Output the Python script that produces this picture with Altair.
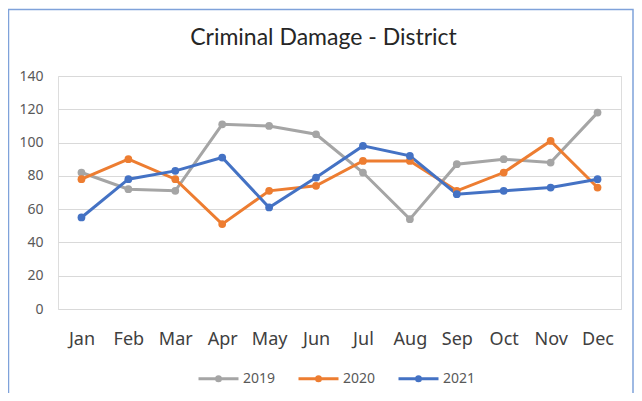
import altair as alt
import pandas as pd

months = ["Jan", "Feb", "Mar", "Apr", "May", "Jun", "Jul", "Aug", "Sep", "Oct", "Nov", "Dec"]
years = ["2019", "2020", "2021"]
v2019 = [82, 72, 71, 111, 110, 105, 82, 54, 87, 90, 88, 118]
v2020 = [78, 90, 78, 51, 71, 74, 89, 89, 71, 82, 101, 73]
v2021 = [55, 78, 83, 91, 61, 79, 98, 92, 69, 71, 73, 78]
colors = ["#A5A5A5", "#ED7D31", "#4472C4"]

rows = []
for y, vals in zip(years, [v2019, v2020, v2021]):
    for m, v in zip(months, vals):
        rows.append({"Month": m, "Year": y, "Value": v})
df = pd.DataFrame(rows)

W, H = 563, 233
PL, PT, PR, PB = 50, 68, 13, 84

legend_symbol = "M-1,0H1M-0.1,0A0.1,0.1,0,1,0,0.1,0A0.1,0.1,0,1,0,-0.1,0"

lines = alt.Chart(df).mark_line(
    strokeWidth=3,
    point=alt.OverlayMarkDef(size=60, filled=True),
).encode(
    x=alt.X("Month:O", sort=months, title=None,
            scale=alt.Scale(padding=0.5),
            axis=alt.Axis(labelAngle=0, domain=False, ticks=False, tickSize=0,
                          labelPadding=21, labelFont="Noto Sans", labelFontSize=18,
                          labelColor="#404040", grid=False)),
    y=alt.Y("Value:Q", title=None,
            scale=alt.Scale(domain=[0, 140], nice=False, zero=True),
            axis=alt.Axis(values=[0, 20, 40, 60, 80, 100, 120, 140], domain=False,
                          ticks=False, tickSize=0, labelPadding=15,
                          labelFont="Noto Sans", labelFontSize=14, labelColor="#595959",
                          grid=True, gridColor="#D9D9D9", gridWidth=1)),
    color=alt.Color("Year:N", sort=years,
                    scale=alt.Scale(domain=years, range=colors),
                    legend=alt.Legend(title=None, orient="none", direction="horizontal",
                                      legendX=139, legendY=281,
                                      symbolType=legend_symbol, symbolSize=1600,
                                      symbolStrokeWidth=3, labelFont="Noto Sans",
                                      labelFontSize=14, labelColor="#595959",
                                      labelOffset=3, columnPadding=16)),
)

border = alt.Chart(pd.DataFrame({"k": [0]})).mark_rect(
    fill=None, stroke="#7FA2DA", strokeWidth=1.5
).encode(
    x=alt.value(-PL + 0.5), x2=alt.value(W + PR - 1),
    y=alt.value(-PT + 1.5), y2=alt.value(H + PB + 40),
)

chart = alt.layer(border, lines).properties(
    width=W, height=H,
    padding={"left": PL, "top": PT, "right": PR, "bottom": PB},
    autosize=alt.AutoSizeParams(type="none"),
    title=alt.TitleParams("Criminal Damage - District", font="Lato", fontSize=23,
                          fontWeight="normal", color="#262626", anchor="middle",
                          baseline="alphabetic", dx=-16, dy=59, offset=0),
).configure_view(stroke=None).configure(background="white")

chart.save("out.html", embed_options={"renderer": "svg", "actions": False})
